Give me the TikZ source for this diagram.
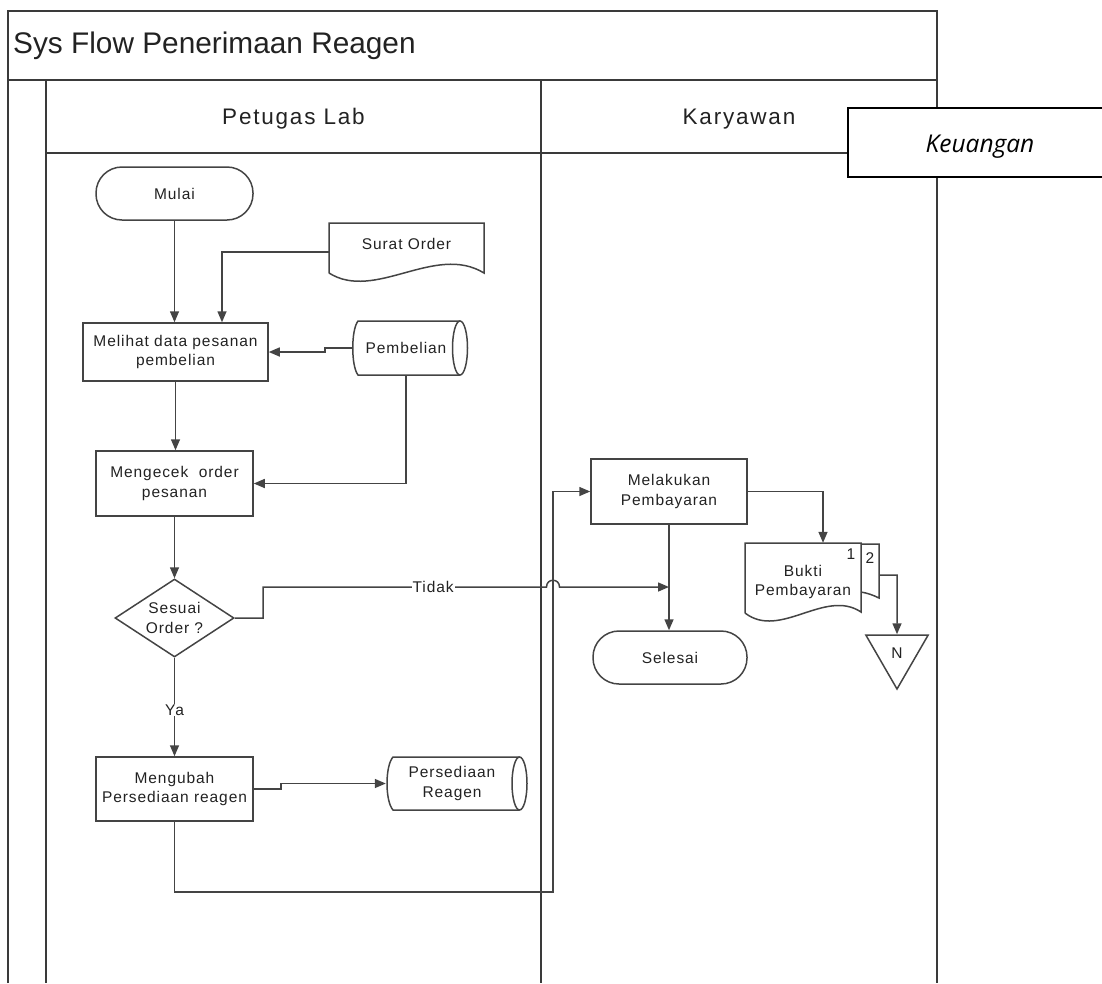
\documentclass[tikz,border=0pt]{standalone}
\usepackage{fontspec}
\setmainfont{Liberation Sans}
\newfontfamily\lsfont{Liberation Sans}[LetterSpace=6]
\newfontfamily\hdfont{Liberation Sans}[LetterSpace=8]
\newfontfamily\keufont{Open Sans}
\usetikzlibrary{arrows.meta,shapes.geometric,calc}
\definecolor{ln}{HTML}{444444}
\definecolor{frm}{HTML}{3A3A3A}
\definecolor{txt}{HTML}{222222}
\newcommand\boxfont{\lsfont\fontsize{15.5}{19.5}\selectfont}
\newcommand\headfont{\hdfont\fontsize{22.5}{26}\selectfont}

\begin{document}
\begin{tikzpicture}[x=1pt,y=-1pt,
  frame/.style={draw=frm, line width=2pt},
  shp/.style={draw=ln, line width=1.5pt},
  box/.style={shp, rectangle, inner sep=0pt, align=center, font=\boxfont, text=txt},
  term/.style={box, rounded corners=26pt},
  txtonly/.style={inner sep=0pt, align=center, font=\boxfont, text=txt},
  conn/.style={draw=ln, line width=1.5pt, -{Triangle[length=11pt,width=9pt]}},
  lbl/.style={fill=white, inner sep=1pt, font=\boxfont, text=txt},
  head/.style={anchor=base, font=\headfont, text=txt, inner sep=0pt}]
\useasboundingbox (0,0) rectangle (1102,983);

% swimlane frame
\draw[frame] (8,983) -- (8,11) -- (937,11) -- (937,983);
\draw[frame] (8,80) -- (937,80);
\draw[frame] (46,80) -- (46,983);
\draw[frame] (46,153) -- (937,153);
\draw[frame] (541,80) -- (541,983);

\node[anchor=base west, font=\fontsize{29.8}{34}\selectfont, text=txt, inner sep=0pt] (title) at (13,53) {Sys Flow Penerimaan Reagen};
\node[head] (lane1) at (293.5,124) {Petugas Lab};
\node[head] (lane2) at (739,124) {Karyawan};

% third lane tab
\path[fill=white, draw=black, line width=2.5pt] (1106,108) -- (848,108) -- (848,177) -- (1106,177);
\node[anchor=base, font=\keufont\itshape\fontsize{24.5}{28}\selectfont, inner sep=0pt] (lane3) at (980,152) {Keuangan};

% process nodes
\node[term, minimum width=157pt, minimum height=53pt] (start) at (174.5,193.5) {Mulai};
\node[box, minimum width=185pt, minimum height=58pt] (melihat) at (175.5,352) {Melihat data pesanan\\pembelian};
\node[box, minimum width=157pt, minimum height=65pt] (cek) at (174.5,483.5) {Mengecek\ \ order\\pesanan};
\node[diamond, shp, aspect=1.5, minimum width=119pt, minimum height=78pt, inner sep=0pt, align=center, font=\boxfont, text=txt] (dec) at (174.5,618) {Sesuai\\Order ?};
\node[box, minimum width=157pt, minimum height=64pt] (mub) at (174.5,789) {Mengubah\\Persediaan reagen};
\node[box, minimum width=156pt, minimum height=65pt] (bayar) at (669,491.5) {Melakukan\\Pembayaran};
\node[term, minimum width=154pt, minimum height=53pt] (end) at (670,657.5) {Selesai};

% document: Surat Order
\draw[shp] (329,273) -- (329,223) -- (484,223) -- (484,273) .. controls (435,243) and (375,302) .. (329,273);
\node[txtonly, minimum width=155pt, minimum height=42pt] (sorder) at (406.5,244) {Surat Order};

% stored data: Pembelian
\draw[shp] (460,321) -- (358,321) .. controls (351,330) and (351,366) .. (358,375) -- (460,375);
\draw[shp] (460,348) ellipse [x radius=7.5pt, y radius=27pt];
\node[txtonly, minimum width=106pt, minimum height=54pt] (pemb) at (406,348) {Pembelian};

% stored data: Persediaan Reagen
\draw[shp] (519.5,757) -- (393,757) .. controls (385,766) and (385,801) .. (393,810) -- (519.5,810);
\draw[shp] (519.5,783.5) ellipse [x radius=7.5pt, y radius=26.5pt];
\node[txtonly, minimum width=132pt, minimum height=53pt] (pers) at (452,783.5) {Persediaan\\Reagen};

% two-copy document: Bukti Pembayaran
\draw[shp] (861,544) -- (879,544) -- (879,598) .. controls (873,595) and (867,593) .. (861,592);
\draw[shp, fill=white] (745,613) -- (745,543) -- (861,543) -- (861,612) .. controls (825,588) and (780,640) .. (745,613);
\node[txtonly, minimum width=116pt, minimum height=78pt] (bukti) at (803,582) {Bukti\\Pembayaran};
\node[txtonly] (copy1) at (851,554) {1};
\node[txtonly] (copy2) at (870,558) {2};

% off-page connector
\node[regular polygon, regular polygon sides=3, shape border rotate=180, minimum size=72pt, inner sep=0pt, shp, font=\boxfont, text=txt] (ntri) at (897,653) {N};

\coordinate (tjoin) at (669,587);
\coordinate (copyout) at (879,575);

% connectors
\draw[conn] (start.south) -- (start.south |- melihat.north);
\draw[conn] ([yshift=-8pt]sorder.west) -| ([xshift=46.5pt]melihat.north);
\draw[conn] (pemb.west) -- (325,348) -- (325,352) -- (melihat.east);
\draw[conn] (melihat.south) -- (melihat.south |- cek.north);
\draw[conn] (pemb.south) |- (cek.east);
\draw[conn] (cek.south) -- (dec.north);
\draw[conn] (dec.east) -- (263,618) -- (263,587) -- node[lbl, pos=0.6] {Tidak} (546.5,587)
  .. controls (546.5,578) and (559.5,578) .. (559.5,587) -- (tjoin);
\draw[conn] (dec.south) -- node[lbl, pos=0.53] {Ya} (mub.north);
\draw[conn] (mub.east) -- (281,789) -- (281,783.5) -- (pers.west);
\draw[conn] (mub.south) -- (174.5,892) -- (553,892) -- (553,491.5) -- (bayar.west);
\draw[conn] (bayar.east) -| ([xshift=20pt]bukti.north);
\draw[conn] (bayar.south) -- (bayar.south |- end.north);
\draw[conn] (copyout) -- (897,575) -- (ntri.north);
\end{tikzpicture}
\end{document}
